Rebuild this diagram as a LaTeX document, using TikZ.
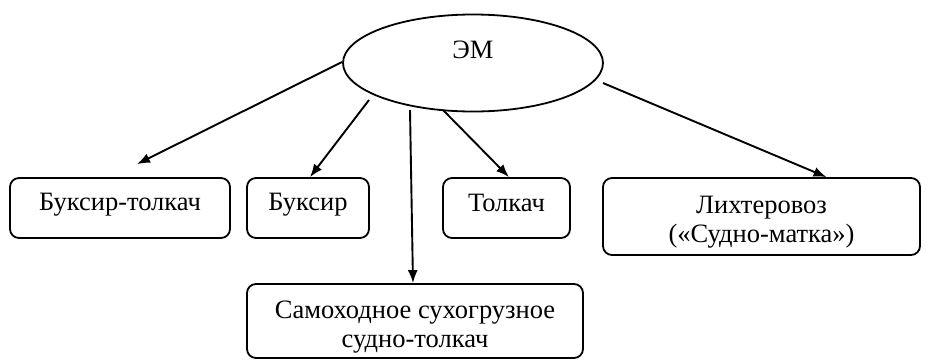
\documentclass[tikz,border=0pt]{standalone}
\usepackage{fontspec}
\setmainfont{Liberation Serif}
\usetikzlibrary{shapes.geometric,arrows.meta}
\newcommand{\lift}[2]{\raisebox{#1}[0pt][0pt]{#2}}
\newcommand{\twolines}[2]{\begin{tabular}[t]{@{}c@{}}#1\\#2\end{tabular}}
\tikzset{
  box/.style={draw, line width=1.8pt, rounded corners=9pt, align=center,
    font=\fontsize{26.5}{29}\selectfont, inner sep=0pt},
  arr/.style={-{Latex[length=13pt,width=10pt]}, line width=1.9pt},
}
\begin{document}
\begin{tikzpicture}[x=1pt,y=-1pt]
\useasboundingbox (0,0) rectangle (926,359);
\node[draw, ellipse, line width=1.8pt, minimum width=260pt, minimum height=97pt, inner sep=0pt,
  font=\fontsize{26.5}{29}\selectfont] (em) at (473,63) {\lift{5pt}{ЭМ}};
\node[box, minimum width=220pt, minimum height=60pt] (bt) at (120,208) {\lift{-2pt}{Буксир-толкач}};
\node[box, minimum width=122pt, minimum height=60pt] (bu) at (308,208) {\lift{-2pt}{Буксир}};
\node[box, minimum width=127pt, minimum height=60pt] (tk) at (506.5,208) {\lift{-3pt}{Толкач}};
\node[box, minimum width=317pt, minimum height=77pt] (lx) at (761.5,216.5) {\lift{3.5pt}{\twolines{Лихтеровоз}{(«Судно-матка»)}}};
\node[box, minimum width=336pt, minimum height=74pt] (sam) at (415,321) {\lift{3pt}{\twolines{Самоходное сухогрузное}{судно-толкач}}};
\draw[arr] ([shift={(-131,-1)}]em.center) -- ([shift={(17,-13)}]bt.north);
\draw[arr] ([shift={(-104,37)}]em.center) -- ([xshift=2pt]bu.north);
\draw[arr] ([shift={(-63,47)}]em.center) -- ([xshift=-2pt]sam.north);
\draw[arr] ([shift={(-30,47)}]em.center) -- ([xshift=2.5pt]tk.north);
\draw[arr] ([shift={(130,20)}]em.center) -- ([xshift=65pt]lx.north);
\end{tikzpicture}
\end{document}
